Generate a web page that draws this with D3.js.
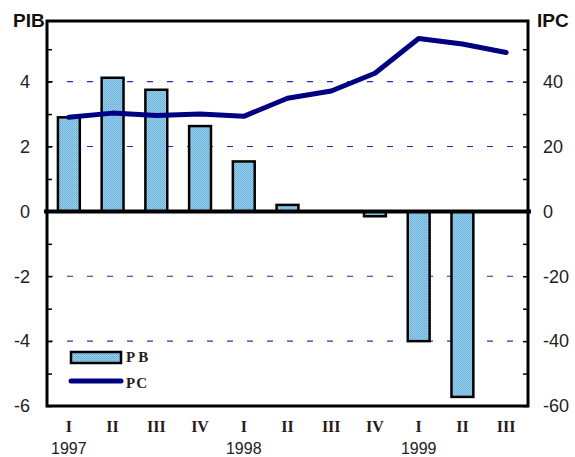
<!DOCTYPE html>
<html><head><meta charset="utf-8">
<script src="https://cdn.jsdelivr.net/npm/d3@7"></script>
<style>body{margin:0;background:#fff}svg{display:block}</style>
</head><body>
<script>
const quarters = ["I","II","III","IV","I","II","III","IV","I","II","III"];
const years = ["1997","","","","1998","","","","1999","",""];
const pib = [2.9, 4.12, 3.75, 2.63, 1.54, 0.2, 0, -0.15, -4.0, -5.72, null];
const ipc = [29.0, 30.3, 29.6, 30.0, 29.3, 34.9, 37.1, 42.6, 53.3, 51.6, 49.0];
const leftTicks = [-6,-4,-2,0,2,4];
const rightTicks = [-60,-40,-20,0,20,40];
const gridVals = [-4,-2,2,4];

const W=575,H=457, L=47, R=528, T=21, B=406;
const svg=d3.select("body").append("svg").attr("width",W).attr("height",H);

const defs=svg.append("defs");
const pat=defs.append("pattern").attr("id","dots").attr("width",2).attr("height",2).attr("patternUnits","userSpaceOnUse");
pat.append("rect").attr("width",2).attr("height",2).attr("fill","#93cdeb");
pat.append("rect").attr("width",1).attr("height",1).attr("fill","#6aaed6");
pat.append("rect").attr("x",1).attr("y",1).attr("width",1).attr("height",1).attr("fill","#7dbde0");

const idx=d3.range(quarters.length);
const x=d3.scaleBand().domain(idx).range([L,R]).paddingInner(0.5).paddingOuter(0.25);
const y=d3.scaleLinear().domain([-6,5.87]).range([B,T]);
const y2=d3.scaleLinear().domain([-60,58.7]).range([B,T]);
const fmt=d=>String(d);

// gridlines
svg.append("g").selectAll("line").data(gridVals).join("line")
  .attr("x1",L).attr("x2",R).attr("y1",d=>y(d)).attr("y2",d=>y(d))
  .attr("stroke","#2a2ab0").attr("stroke-width",1.2).attr("stroke-dasharray","6,14");

// bars
svg.append("g").selectAll("rect").data(idx.filter(i=>pib[i]!==null && pib[i]!==0)).join("rect")
  .attr("x",i=>x(i)).attr("width",x.bandwidth())
  .attr("y",i=>y(Math.max(0,pib[i]))).attr("height",i=>Math.abs(y(pib[i])-y(0)))
  .attr("fill","url(#dots)").attr("stroke","#000").attr("stroke-width",2.5);

// line
svg.append("path").datum(idx).attr("fill","none").attr("stroke","#000080").attr("stroke-width",5)
  .attr("stroke-linejoin","round").attr("stroke-linecap","round")
  .attr("d",d3.line().x(i=>x(i)+x.bandwidth()/2).y(i=>y2(ipc[i])));

// zero line
svg.append("line").attr("x1",44).attr("x2",531).attr("y1",y(0)).attr("y2",y(0))
  .attr("stroke","#000").attr("stroke-width",4);

// frame
svg.append("rect").attr("x",L).attr("y",T).attr("width",R-L).attr("height",B-T)
  .attr("fill","none").attr("stroke","#000").attr("stroke-width",3);

// left axis ticks
const la=svg.append("g").attr("transform",`translate(${L},0)`)
  .call(d3.axisLeft(y).tickValues(d3.range(-6,6,1)).tickSizeInner(-5).tickSizeOuter(0).tickFormat(""));
la.select(".domain").remove();
la.selectAll("line").attr("stroke","#000").attr("stroke-width",1.5);
const ll=svg.append("g").attr("transform",`translate(${L},0)`)
  .call(d3.axisLeft(y).tickValues(leftTicks).tickSize(0).tickPadding(17).tickFormat(fmt));
ll.select(".domain").remove();
ll.selectAll("text").attr("font-family","Liberation Sans, Arial, sans-serif").attr("font-size",18).attr("fill","#222");

// right axis ticks
const ra=svg.append("g").attr("transform",`translate(${R},0)`)
  .call(d3.axisRight(y2).tickValues(d3.range(-60,60,10)).tickSizeInner(-5).tickSizeOuter(0).tickFormat(""));
ra.select(".domain").remove();
ra.selectAll("line").attr("stroke","#000").attr("stroke-width",1.5);
const rl=svg.append("g").attr("transform",`translate(${R},0)`)
  .call(d3.axisRight(y2).tickValues(rightTicks).tickSize(0).tickPadding(15).tickFormat(fmt));
rl.select(".domain").remove();
rl.selectAll("text").attr("font-family","Liberation Sans, Arial, sans-serif").attr("font-size",18).attr("fill","#222");

// titles
svg.append("text").attr("x",13).attr("y",27).text("PIB")
  .attr("font-family","Liberation Sans, Arial, sans-serif").attr("font-weight","bold").attr("font-size",19).attr("fill","#111");
svg.append("text").attr("x",537).attr("y",27).text("IPC")
  .attr("font-family","Liberation Sans, Arial, sans-serif").attr("font-weight","bold").attr("font-size",19).attr("fill","#111");

// x labels
svg.append("g").selectAll("text").data(idx).join("text")
  .attr("x",i=>x(i)+x.bandwidth()/2).attr("y",432).attr("text-anchor","middle")
  .attr("font-family","Liberation Serif, Times New Roman, serif").attr("font-weight","bold").attr("font-size",16)
  .attr("fill","#2a1a1a").text(i=>quarters[i]);
svg.append("g").selectAll("text").data(idx.filter(i=>years[i])).join("text")
  .attr("x",i=>x(i)+x.bandwidth()/2).attr("y",454).attr("text-anchor","middle")
  .attr("font-family","Liberation Sans, Arial, sans-serif").attr("font-size",16)
  .attr("fill","#222").text(i=>years[i]);

// legend
const lg=svg.append("g");
lg.append("rect").attr("x",71).attr("y",352).attr("width",50).attr("height",11)
  .attr("fill","url(#dots)").attr("stroke","#000").attr("stroke-width",2.5);
lg.append("line").attr("x1",71).attr("x2",121).attr("y1",381).attr("y2",381)
  .attr("stroke","#000080").attr("stroke-width",5).attr("stroke-linecap","round");
lg.append("text").attr("x",126).attr("y",362).text("PB").attr("letter-spacing",3)
  .attr("font-family","Liberation Serif, Times New Roman, serif").attr("font-weight","bold").attr("font-size",15).attr("fill","#2a1a1a");
lg.append("text").attr("x",126).attr("y",388).text("PC").attr("letter-spacing",1)
  .attr("font-family","Liberation Serif, Times New Roman, serif").attr("font-weight","bold").attr("font-size",15).attr("fill","#2a1a1a");
</script>
</body></html>
